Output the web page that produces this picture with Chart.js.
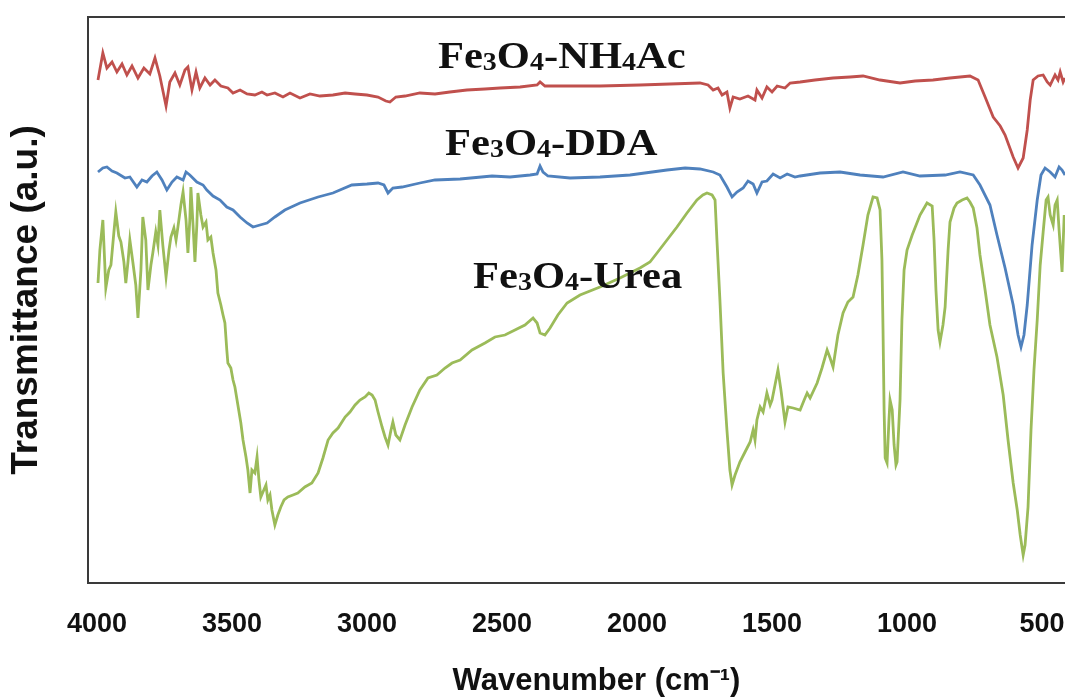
<!DOCTYPE html>
<html><head><meta charset="utf-8">
<script src="https://cdn.jsdelivr.net/npm/chart.js@4.4.1/dist/chart.umd.min.js"></script>
<style>html,body{margin:0;padding:0;background:#fff;overflow:hidden;width:1065px;height:697px;}#wrap{width:1105px;height:697px;position:relative;}</style>
</head><body><div id="wrap"><canvas id="c"></canvas></div>
<script>
// ---- tick labels / axis ----
const xTickValues = [4000, 3500, 3000, 2500, 2000, 1500, 1000, 500];
const xAxisTitle = 'Wavenumber (cm\u207B\u00B9)';
const yAxisTitle = 'Transmittance (a.u.)';

// ---- Fe3O4-NH4Ac (red) ----
const nh4acWavenumber = [3996,3978,3963,3944,3926,3907,3889,3870,3848,3826,3804,3785,3767,3744,3730,3711,3693,3674,3663,3648,3633,3619,3600,3581,3563,3541,3515,3496,3470,3444,3415,3389,3370,3341,3311,3285,3248,3211,3174,3126,3081,3044,3000,2959,2930,2915,2893,2859,2804,2748,2693,2630,2563,2507,2433,2370,2359,2341,2248,2137,1989,1878,1767,1737,1718,1700,1685,1667,1656,1644,1619,1589,1563,1556,1537,1519,1500,1481,1452,1433,1396,1341,1274,1211,1163,1100,1026,970,904,841,767,737,711,681,655,637,607,589,570,555,544,533,515,496,481,470,452,441,433,422,415];
const nh4acT = [100.6,106,103,104.2,102.2,103.8,101.6,103.4,101,103,101.8,105,101.4,95.4,100.2,102,99.6,102.6,103.2,98.6,102.2,99,101,99.6,100.6,99.4,99,98,98.6,97.8,97.6,98.2,97.6,98,97.2,98,97,97.8,97.4,97.6,98,97.8,97.6,97.2,96.4,96.2,97.2,97.4,98,97.8,98.2,98.6,98.8,99,99.2,99.6,100.2,99.4,99.4,99.4,99.6,99.8,100,99.6,98.6,99,97.6,98.2,95,97.2,96.8,97.4,96.6,98.6,97,99.2,98.2,99.4,99,100,100.2,100.6,101,101.2,101.4,100.6,100,100.4,100.6,101,101.4,100.6,97.2,93.2,91.4,89.6,85.2,83,85,90.6,96.6,100.6,101.4,101.6,100.2,99.6,101.6,100.6,102.2,100.2,101];

// ---- Fe3O4-DDA (blue) ----
const ddaWavenumber = [3996,3978,3963,3944,3926,3896,3878,3852,3833,3815,3796,3778,3759,3741,3722,3704,3681,3670,3656,3630,3607,3593,3570,3544,3519,3496,3470,3444,3422,3396,3370,3341,3304,3248,3181,3126,3056,3000,2959,2937,2922,2904,2870,2804,2748,2655,2537,2470,2396,2370,2359,2348,2330,2248,2137,2026,1889,1822,1767,1718,1693,1667,1648,1630,1607,1589,1570,1556,1537,1519,1496,1470,1444,1415,1396,1322,1248,1174,1089,1015,952,859,804,755,730,693,667,637,607,589,578,567,555,537,518,504,489,470,452,437,426,415];
const ddaT = [82.2,83,83.2,82.4,82,81,81.2,79.2,80.6,80.2,81.4,82.2,80.6,78.6,80.2,81.2,80.6,82.2,81.6,80.2,79.6,78.6,77.4,76.6,75.2,74.6,73.2,72,71.2,71.6,72,73.2,74.6,76,77.2,78,79.6,79.8,80,79.6,78,79,79.2,80,80.6,80.8,81.4,81.2,81.6,81.8,83.4,82.2,81.4,81,81.2,81.6,82.6,83,82.8,82.2,81.6,79.2,77.2,78.2,79,80.4,79.8,78,80.2,80.4,81.8,81,81.8,81.2,81.4,82,82.2,81.6,81.2,82.2,81.4,81.6,82.2,81.6,79.6,75.6,69.6,63,55.6,49.6,47.2,49.6,55.6,67.6,76.6,81.6,83,82.2,81.2,83.2,82.6,81.6];

// ---- Fe3O4-Urea (green) ----
const ureaWavenumber = [3996,3989,3978,3967,3956,3948,3937,3930,3919,3911,3900,3893,3885,3878,3867,3856,3848,3837,3830,3819,3811,3800,3793,3782,3774,3767,3756,3744,3733,3726,3715,3707,3700,3689,3681,3670,3663,3656,3652,3644,3637,3630,3626,3615,3607,3596,3589,3578,3570,3559,3552,3541,3533,3526,3519,3515,3504,3496,3489,3478,3467,3459,3448,3441,3433,3426,3415,3407,3400,3393,3382,3374,3367,3359,3352,3341,3330,3319,3307,3293,3274,3256,3230,3204,3181,3163,3144,3126,3107,3081,3063,3044,3026,3007,2993,2981,2970,2959,2944,2933,2922,2911,2904,2893,2878,2859,2833,2804,2774,2741,2711,2685,2655,2611,2563,2526,2489,2452,2415,2385,2370,2359,2341,2322,2293,2259,2211,2137,2063,1989,1952,1926,1889,1852,1815,1778,1756,1741,1722,1711,1704,1693,1681,1667,1656,1648,1637,1619,1600,1581,1570,1563,1556,1544,1533,1519,1507,1500,1489,1478,1467,1452,1441,1422,1396,1381,1370,1359,1333,1315,1296,1285,1274,1256,1237,1219,1200,1182,1163,1145,1126,1111,1100,1093,1089,1085,1081,1074,1067,1063,1055,1048,1041,1037,1026,1019,1011,1000,981,952,926,907,900,893,885,878,867,859,848,841,826,815,796,778,767,755,741,730,711,693,667,644,626,607,592,581,570,563,552,541,530,518,507,496,485,478,470,459,452,444,437,426,418,415];
const ureaT = [60,66.6,72.6,59,62.6,63.6,70.2,74.2,69.4,68.2,64.2,60,64.2,68.6,64.2,59.6,53,62.6,73.2,68.6,58.6,63.6,66,70.2,67.6,74.6,67.6,61.2,66.6,69.2,71,68.6,71.2,75.6,78.2,72.6,66,72.6,79.2,71.6,64.2,71.6,78,73.6,71.2,72.2,68.6,69.2,66,62.6,58,55.6,53.6,52,46.6,44,43,40.6,39.2,35.6,32,28.6,25.2,22.6,18,22.6,22,25.2,20.6,17.2,18.6,19.6,16.6,17.6,14.6,11.6,13.6,15.2,16.6,17.2,17.6,18,19.2,20,22,25,28.6,30,31,33.2,34.2,35.6,36.6,37.2,38,37.6,36.6,34.2,31.2,29.2,27.6,30.6,32.2,29.6,28.6,31.6,35.2,38.6,41,41.6,43,44,44.6,46.6,48,49.2,49.6,50.6,51.6,53,52,50,49.6,51,53.6,56,57.6,59.2,61,63,64.2,66,68.6,71.2,74,76.6,77.6,78,77.6,76.6,68.6,56.6,42,30.6,22.6,19.6,21.6,24.2,26.2,28.2,30.6,28.6,32.6,35.2,34.2,38,35.6,36.6,39.6,42.6,38.6,32.2,35.2,35,34.6,36.6,38,37,40,43,46.6,45,43.2,49.6,54,56.2,57.2,61.6,67.6,73.6,77.2,77,74.6,64.6,50.6,34.6,25,24,32.6,36.6,34.6,27.6,23.6,24.2,36.6,52.6,62.6,66.6,69.6,73.6,76,75.4,68.6,58.6,50.6,48.2,51.6,55.2,66.6,72.2,75,76,76.6,77,76.2,75,71,65.6,58.6,51.6,45.2,37.6,28.6,20,14.6,9.6,5.6,7.6,15.2,30.6,42.6,52.6,63.6,70.2,76.6,77.2,73.6,71.6,75.6,76.6,70.6,62.2,73.6,71.6];

// ---- in-plot series labels: [text, isSubscript] ----
const labelNH4Ac = [['Fe',0],['3',1],['O',0],['4',1],['-NH',0],['4',1],['Ac',0]];
const labelDDA = [['Fe',0],['3',1],['O',0],['4',1],['-DDA',0]];
const labelUrea = [['Fe',0],['3',1],['O',0],['4',1],['-Urea',0]];
// anchor (wavenumber, transmittance) of each label's left baseline
const labelAnchors = [[2737, 103], [2711, 85.6], [2607, 59]];

const toPoints = (xs, ys) => {
  if (xs.length !== ys.length) console.warn('length mismatch', xs.length, ys.length);
  const n = Math.min(xs.length, ys.length);
  const out = [];
  for (let i = 0; i < n; i++) out.push({x: xs[i], y: ys[i]});
  return out;
};

const frameColor = '#3a3a3a';
const framePlugin = {
  id: 'frameAndLabels',
  beforeDatasetsDraw(chart) {
    const {ctx, chartArea: a} = chart;
    ctx.save();
    ctx.strokeStyle = frameColor;
    ctx.lineWidth = 2;
    ctx.beginPath();
    ctx.moveTo(a.left, a.top);
    ctx.lineTo(a.right, a.top);
    ctx.lineTo(a.right, a.bottom);
    ctx.stroke();
    ctx.restore();
  },
  afterDatasetsDraw(chart) {
    const {ctx, scales: {x, y}} = chart;
    const labels = [labelNH4Ac, labelDDA, labelUrea];
    ctx.save();
    ctx.fillStyle = '#111';
    ctx.textBaseline = 'alphabetic';
    labels.forEach((parts, i) => {
      const px = x.getPixelForValue(labelAnchors[i][0]);
      const py = y.getPixelForValue(labelAnchors[i][1]);
      ctx.save();
      ctx.translate(px, py);
      ctx.scale(1.12, 1);
      let cx = 0;
      for (const [txt, sub] of parts) {
        ctx.font = sub ? 'bold 25px "Liberation Serif", "Times New Roman", serif' : 'bold 38px "Liberation Serif", "Times New Roman", serif';
        ctx.fillText(txt, cx, sub ? 2 : 0);
        cx += ctx.measureText(txt).width;
      }
      ctx.restore();
    });
    ctx.restore();
  }
};

const ds = (label, xs, ys, color) => ({
  label, data: toPoints(xs, ys), borderColor: color, backgroundColor: color,
  borderWidth: 2.8, pointRadius: 0, tension: 0, fill: false
});

new Chart(document.getElementById('c'), {
  type: 'line',
  data: {
    datasets: [
      ds('Fe3O4-NH4Ac', nh4acWavenumber, nh4acT, '#C0504D'),
      ds('Fe3O4-DDA', ddaWavenumber, ddaT, '#4F81BD'),
      ds('Fe3O4-Urea', ureaWavenumber, ureaT, '#9BBB59')
    ]
  },
  options: {
    responsive: true,
    maintainAspectRatio: false,
    animation: false,
    layout: {padding: {top: 17, right: 0, bottom: 0, left: 0}},
    plugins: {legend: {display: false}, tooltip: {enabled: false}},
    scales: {
      x: {
        type: 'linear', reverse: true, min: 267, max: 4033,
        afterBuildTicks: s => { s.ticks = xTickValues.map(v => ({value: v})); },
        afterFit: s => { s.height = 114; },
        grid: {display: false, drawTicks: false},
        border: {display: true, color: frameColor, width: 2},
        ticks: {
          color: '#111', padding: 25,
          font: {family: '"Liberation Sans", Arial, sans-serif', size: 27, weight: 'bold'},
          maxRotation: 0, autoSkip: false,
          callback: v => String(v)
        },
        title: {
          display: true, text: xAxisTitle, color: '#111',
          font: {family: '"Liberation Sans", Arial, sans-serif', size: 31, weight: 'bold'},
          padding: {top: 0, bottom: -3}
        }
      },
      y: {
        type: 'linear', min: 0, max: 113.2,
        afterFit: s => { s.width = 88; },
        grid: {display: false, drawTicks: false},
        border: {display: true, color: frameColor, width: 2},
        ticks: {display: false},
        title: {
          display: true, text: yAxisTitle, color: '#111',
          font: {family: '"Liberation Sans", Arial, sans-serif', size: 37, weight: 'bold'},
          padding: {top: 5, bottom: 0}
        }
      }
    }
  },
  plugins: [framePlugin]
});
</script>
</body></html>
